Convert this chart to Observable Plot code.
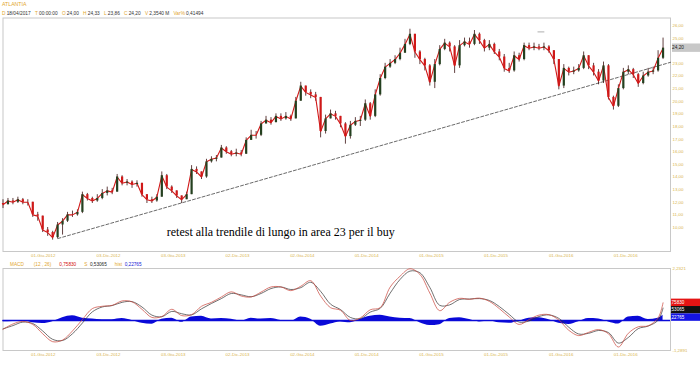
<!DOCTYPE html>
<html><head><meta charset="utf-8">
<script src="https://cdn.jsdelivr.net/npm/d3@7"></script>
<script src="https://cdn.jsdelivr.net/npm/@observablehq/plot@0.6"></script>
<style>
html,body{margin:0;padding:0;background:#fff;}
#wrap{position:relative;width:700px;height:365px;overflow:hidden;font-family:"Liberation Sans",Arial,sans-serif;}
#wrap svg{position:absolute;left:0;}
</style></head><body><div id="wrap"></div>
<script>
// ---------------- DATA ----------------
const ticker = "ATLANTIA";
const headerKeys = ["D","T","O","H","L","C","V","Var%"];
const headerVals = ["18/04/2017","00:00:00","24,00","24,33","23,86","24,20","2,3540 M","0,41494"];

const priceStart = "2012-03-14";   // first bar (2-week bars)
const stepDays = 14;
const firstOpen = 11.9;
const closes = [11.8,12.1,12.0,12.2,12.0,12.0,11.0,10.9,9.8,9.6,
 9.2,10.2,10.5,11.0,11.0,11.2,12.6,12.3,12.1,12.3,
 12.7,12.9,12.8,14.0,13.5,13.6,13.4,13.5,12.6,12.2,
 12.1,12.4,14.1,13.2,12.9,12.5,12.2,12.6,14.6,14.4,
 14.0,15.2,15.4,15.5,16.3,16.0,15.8,15.9,15.8,16.9,
 17.3,17.3,18.2,18.5,18.3,18.8,18.6,18.8,18.6,20.0,
 21.2,20.7,20.5,20.3,17.6,18.6,19.0,18.8,18.2,17.2,
 18.1,18.4,18.5,19.8,18.8,20.5,21.8,22.7,23.0,23.3,
 23.8,24.5,25.3,23.9,23.3,22.8,21.5,22.9,24.1,24.6,
 24.3,22.8,24.4,24.7,24.5,25.3,24.8,24.2,24.5,23.9,
 23.5,22.6,22.4,23.6,23.3,24.4,24.2,24.3,24.2,24.3,
 24.0,23.3,21.2,22.6,22.3,22.4,22.6,23.6,22.8,22.3,
 21.6,22.8,20.3,19.6,21.0,22.3,22.5,22.1,21.4,22.0,
 22.3,22.4,23.4,24.2];
const highs = [12.2,12.3,12.3,12.4,12.3,12.2,12.0,11.2,10.8,10.0,
 9.7,10.4,10.7,11.2,11.3,11.4,12.8,12.7,12.4,12.6,
 13.0,13.2,13.1,14.2,14.1,13.8,13.7,13.7,13.5,12.6,
 12.4,12.6,14.4,14.2,13.3,12.9,12.5,12.8,14.9,14.8,
 14.4,15.4,15.6,15.7,16.5,16.4,16.1,16.2,16.1,17.1,
 17.7,17.6,18.4,18.8,18.7,19.0,19.0,19.1,18.9,20.3,
 21.5,21.2,20.9,20.7,20.3,18.9,19.3,19.2,18.8,18.3,
 18.4,18.7,18.8,20.1,19.9,20.9,22.1,23.0,23.3,23.6,
 24.2,24.9,25.7,25.3,24.0,23.4,22.9,23.3,24.4,24.9,
 24.7,24.4,24.8,25.0,25.0,25.6,25.4,24.9,24.8,24.6,
 24.1,23.7,23.0,23.9,23.8,24.6,24.6,24.6,24.5,24.6,
 24.4,24.0,23.0,22.9,22.7,22.7,22.9,23.9,23.6,23.0,
 22.5,23.1,22.9,20.4,21.3,22.6,22.8,22.6,22.2,22.3,
 22.6,22.7,24.0,25.0];
const lows = [11.5,11.8,11.8,11.9,11.8,11.7,10.8,10.5,9.6,9.3,
 9.0,9.1,9.4,10.4,10.8,10.9,11.1,12.1,11.9,12.0,
 12.2,12.5,12.6,12.8,13.3,13.3,13.1,13.2,12.4,11.9,
 11.9,12.0,12.4,13.0,12.7,12.3,11.9,12.2,12.6,14.2,
 13.8,13.9,15.1,15.2,15.5,15.8,15.6,15.6,15.6,15.8,
 17.0,17.0,17.2,18.2,18.1,18.3,18.4,18.5,18.4,18.6,
 20.0,20.4,20.2,20.0,17.1,17.4,18.6,18.5,17.9,16.6,
 17.0,18.0,18.0,18.4,18.5,18.7,20.4,21.7,22.6,22.9,
 23.2,23.8,24.4,23.4,22.9,22.4,21.2,21.0,22.8,24.0,
 23.9,22.2,22.6,24.3,24.2,24.4,24.5,23.9,24.0,23.7,
 23.2,22.3,22.2,22.3,23.1,23.2,24.0,24.0,24.0,24.0,
 23.8,22.9,20.9,21.0,22.0,22.1,22.3,22.5,22.5,22.0,
 21.3,21.4,20.1,19.3,19.5,20.9,22.1,21.8,21.1,21.3,
 21.9,22.1,22.3,23.3];
const lastPrice = 24.20;

// long-term trendline (two anchor points) and a stray marker
const trendDates = ["2012-08-16","2017-05-10"];
const trendValues = [9.13, 23.08];
const markDates = ["2016-05-01","2016-05-18"];
const markValues = [25.49, 25.49];

const noteText = "retest alla trendile di lungo in area 23 per il buy";
const noteDate = "2013-06-19";
const noteValue = 9.63;

// MACD panel, one value every 4 weeks (+ last bar)
const macdStep = 2; // every 2nd bar
const macdVals = [-0.38,-0.15,-0.04,-0.17,-0.57,-0.91,-0.84,-0.45,0.04,0.51,
 0.61,0.65,0.84,0.80,0.48,0.13,0.17,0.48,0.21,0.25,
 0.61,0.78,1.01,1.23,1.05,1.01,1.22,1.44,1.44,1.28,
 1.47,1.71,1.05,0.55,0.44,0.00,0.11,0.46,0.55,1.43,
 1.90,2.22,1.98,1.18,0.42,0.78,0.95,0.91,0.96,0.82,
 0.51,0.15,-0.17,0.04,0.23,0.25,0.02,-0.42,-0.65,-0.51,
 -0.39,-0.57,-1.14,-0.55,-0.27,-0.23,0.11,0.7583];
const signalVals = [-0.36,-0.22,-0.07,-0.13,-0.45,-0.81,-0.86,-0.57,-0.11,0.37,
 0.58,0.64,0.78,0.81,0.58,0.23,0.16,0.39,0.29,0.24,
 0.50,0.73,0.94,1.16,1.10,1.02,1.16,1.37,1.44,1.33,
 1.41,1.64,1.25,0.70,0.47,0.13,0.08,0.36,0.52,1.17,
 1.76,2.12,2.05,1.42,0.65,0.67,0.90,0.92,0.94,0.86,
 0.60,0.26,-0.07,-0.02,0.17,0.24,0.09,-0.29,-0.58,-0.55,
 -0.43,-0.52,-0.97,-0.73,-0.35,-0.24,0.01,0.5307];
const histVals = [-0.05,-0.04,0.0,-0.10,-0.13,-0.05,0.12,0.20,0.10,0.06,
 0.03,0.03,0.08,0.0,-0.12,-0.16,0.05,0.10,-0.08,0.15,
 0.18,0.06,0.09,0.05,-0.03,0.10,0.06,0.08,0.0,-0.04,
 0.15,0.05,-0.25,-0.15,-0.06,-0.10,0.05,0.18,0.22,0.15,
 0.10,0.08,-0.10,-0.22,-0.18,0.08,0.12,0.04,-0.06,-0.02,
 -0.10,-0.12,-0.03,0.10,0.12,0.03,-0.12,-0.17,-0.05,0.08,
 0.06,-0.06,-0.15,0.15,0.18,0.04,0.10,0.2277];
const macdLegendKeys = ["MACD","(12 , 26)","S","hist"];
const macdLegendVals = ["0,75830","0,53065","0,22765"];
const macdTagVals = [0.7583, 0.53065, 0.22765];
const macdTagText = ["0,75830","0,53065","0,22765"];
const macdDomain = [-1.2891, 2.2321];

const xDomainStr = ["2012-03-14","2017-05-10"];
const yDomain = [8.10, 26.59];
const yTicks = [10,11,12,13,14,15,16,17,18,19,20,21,22,23,25,26];
const tickDateStr = ["2012-06-01","2012-12-03","2013-06-03","2013-12-02","2014-06-02","2014-12-01","2015-06-01","2015-12-01","2016-06-01","2016-12-01"];
const tickLabels = ["01-Giu-2012","03-Dic-2012","03-Giu-2013","02-Dic-2013","02-Giu-2014","01-Dic-2014","01-Giu-2015","01-Dic-2015","01-Giu-2016","01-Dic-2016"];

// ---------------- BUILD ----------------
const gold = "#d9b54e", gold2 = "#e2a62c";
const upC = "#24401f", downC = "#d01818";
const loc = d3.formatLocale({decimal:",", thousands:".", grouping:[3], currency:["","€"], minus:"-"});
const f2 = loc.format(".2f"), f4 = loc.format(".4f");
const parse = d3.utcParse("%Y-%m-%d");
const t0 = parse(priceStart);
const dates = closes.map((c,i) => d3.utcDay.offset(t0, stepDays*i));
const candles = closes.map((c,i) => ({date: dates[i], open: i ? closes[i-1] : firstOpen, close: c, high: highs[i], low: lows[i]}));
const macdIdx = d3.range(0, closes.length-1, macdStep).concat([closes.length-1]);
const macdData = macdVals.map((v,k) => ({date: dates[macdIdx[k]], macd: v, signal: signalVals[k], hist: histVals[k]}));
const trend = trendDates.map((d,i) => ({date: parse(d), value: trendValues[i]}));
const mark = markDates.map((d,i) => ({date: parse(d), value: markValues[i]}));
const xDomain = xDomainStr.map(parse);
const tickDates = tickDateStr.map(parse);
const labelMap = new Map(tickDates.map((d,i) => [+d, tickLabels[i]]));
const font = "Liberation Sans, Arial, sans-serif";

const wrap = document.getElementById("wrap");

const axisX = () => Plot.axisX({ticks: tickDates, tickFormat: d => labelMap.get(+d), tickSize: 0, tickPadding: 2, textAnchor: "start", fill: gold, label: null, fontSize: 4.4});

const main = Plot.plot({
  width: 700, height: 262,
  marginTop: 17.5, marginBottom: 11, marginLeft: 2.5, marginRight: 30,
  style: {background: "transparent", fontFamily: font, overflow: "visible"},
  x: {type: "utc", domain: xDomain},
  y: {domain: yDomain},
  marks: [
    Plot.frame({stroke: "#c8c8c8"}),
    axisX(),
    Plot.axisY({anchor: "right", ticks: yTicks, tickFormat: f2, tickSize: 0, tickPadding: 2, fill: gold, label: null, fontSize: 4.4}),
    Plot.line(trend, {x: "date", y: "value", stroke: "#444", strokeWidth: 0.8, strokeDasharray: "3,2"}),
    Plot.line(mark, {x: "date", y: "value", stroke: "#999", strokeWidth: 0.8}),
    Plot.ruleX(candles, {x: "date", y1: d => Math.min(d.low, d.open, d.close), y2: d => Math.max(d.high, d.open, d.close), stroke: "#3a1010", strokeWidth: 0.8}),
    Plot.line(candles, {x: "date", y: "close", stroke: downC, strokeWidth: 1.1}),
    Plot.ruleX(candles, {x: "date", y1: "open", y2: "close", stroke: d => d.close >= d.open ? upC : downC, strokeWidth: 2.2}),
    Plot.text([noteText], {x: () => parse(noteDate), y: () => noteValue, text: d => d, textAnchor: "start", fontFamily: "Liberation Serif, Times New Roman, serif", fontSize: 12, fill: "#000"})
  ]
});
main.style.top = "0px";
wrap.appendChild(main);

// price tag on the right
{
  const ys = main.scale("y");
  const yy = ys.apply(lastPrice);
  const g = d3.select(main).append("g");
  g.append("rect").attr("x", 672).attr("y", yy - 4.2).attr("width", 28).attr("height", 8.4).attr("fill", "#c8c8c8");
  g.append("text").attr("x", 678).attr("y", yy).attr("dy", "0.35em").attr("font-size", 4.8).attr("fill", "#222").text(f2(lastPrice));
}

const macdPlot = Plot.plot({
  width: 700, height: 103,
  marginTop: 6, marginBottom: 15, marginLeft: 2.5, marginRight: 30,
  style: {background: "transparent", fontFamily: font, overflow: "visible"},
  x: {type: "utc", domain: xDomain},
  y: {domain: macdDomain},
  marks: [
    Plot.frame({stroke: "#c8c8c8"}),
    axisX(),
    Plot.axisY({anchor: "right", ticks: macdDomain, tickFormat: f4, tickSize: 0, tickPadding: 2, fill: gold, label: null, fontSize: 4.4}),
    Plot.areaY(macdData, {x: "date", y1: 0, y2: "hist", fill: "#0a0ad8", curve: "monotone-x"}),
    Plot.ruleY([0], {stroke: "#0a0ad8", strokeWidth: 1.4}),
    Plot.line(macdData, {x: "date", y: "signal", stroke: "#333", strokeWidth: 0.7, curve: "catmull-rom"}),
    Plot.line(macdData, {x: "date", y: "macd", stroke: "#c8443a", strokeWidth: 0.7, curve: "catmull-rom"})
  ]
});
macdPlot.style.top = "262px";
wrap.appendChild(macdPlot);

// MACD value tags (stacked, no overlap)
{
  const ys = macdPlot.scale("y");
  const fills = ["#e41414", "#111", "#1414e4"];
  const g = d3.select(macdPlot).append("g");
  let prev = -Infinity;
  macdTagVals.forEach((v,i) => {
    let c = Math.max(ys.apply(v), prev + 7.4);
    prev = c;
    g.append("rect").attr("x", 671).attr("y", c - 3.7).attr("width", 29).attr("height", 7.4).attr("fill", fills[i]);
    g.append("text").attr("x", 676).attr("y", c).attr("dy", "0.35em").attr("font-size", 4.6).attr("fill", "#fff").text(macdTagText[i]);
  });
}

// header and legend texts (SVG overlay), laid out left to right without overlap
const over = d3.select(wrap).append("svg").attr("width", 700).attr("height", 365)
  .style("top", "0px").style("pointer-events", "none").attr("font-family", font);
function addText(txt, x, y, color, size) {
  const t = over.append("text").attr("x", x).attr("y", y).attr("dy", "0.35em").attr("fill", color).attr("font-size", size).text(txt);
  return x + t.node().getComputedTextLength();
}
addText(ticker, 2, 3.8, gold2, 5.2);
{
  let x = 2;
  headerKeys.forEach((k,i) => {
    x = addText(k, x, 13.3, gold2, 4.8) + 1.2;
    x = addText(headerVals[i], x, 13.3, "#333", 4.8) + 4.2;
  });
}
{
  let x = 10;
  x = addText(macdLegendKeys[0], x, 264, gold2, 4.7) + 10;
  x = addText(macdLegendKeys[1], x, 264, gold2, 4.7) + 8;
  x = addText(macdLegendVals[0], x, 264, "#d41010", 4.7) + 8;
  x = addText(macdLegendKeys[2], x, 264, gold2, 4.7) + 2.5;
  x = addText(macdLegendVals[1], x, 264, "#222", 4.7) + 8;
  x = addText(macdLegendKeys[3], x, 264, gold2, 4.7) + 2.5;
  addText(macdLegendVals[2], x, 264, "#1414d4", 4.7);
}
</script></body></html>
